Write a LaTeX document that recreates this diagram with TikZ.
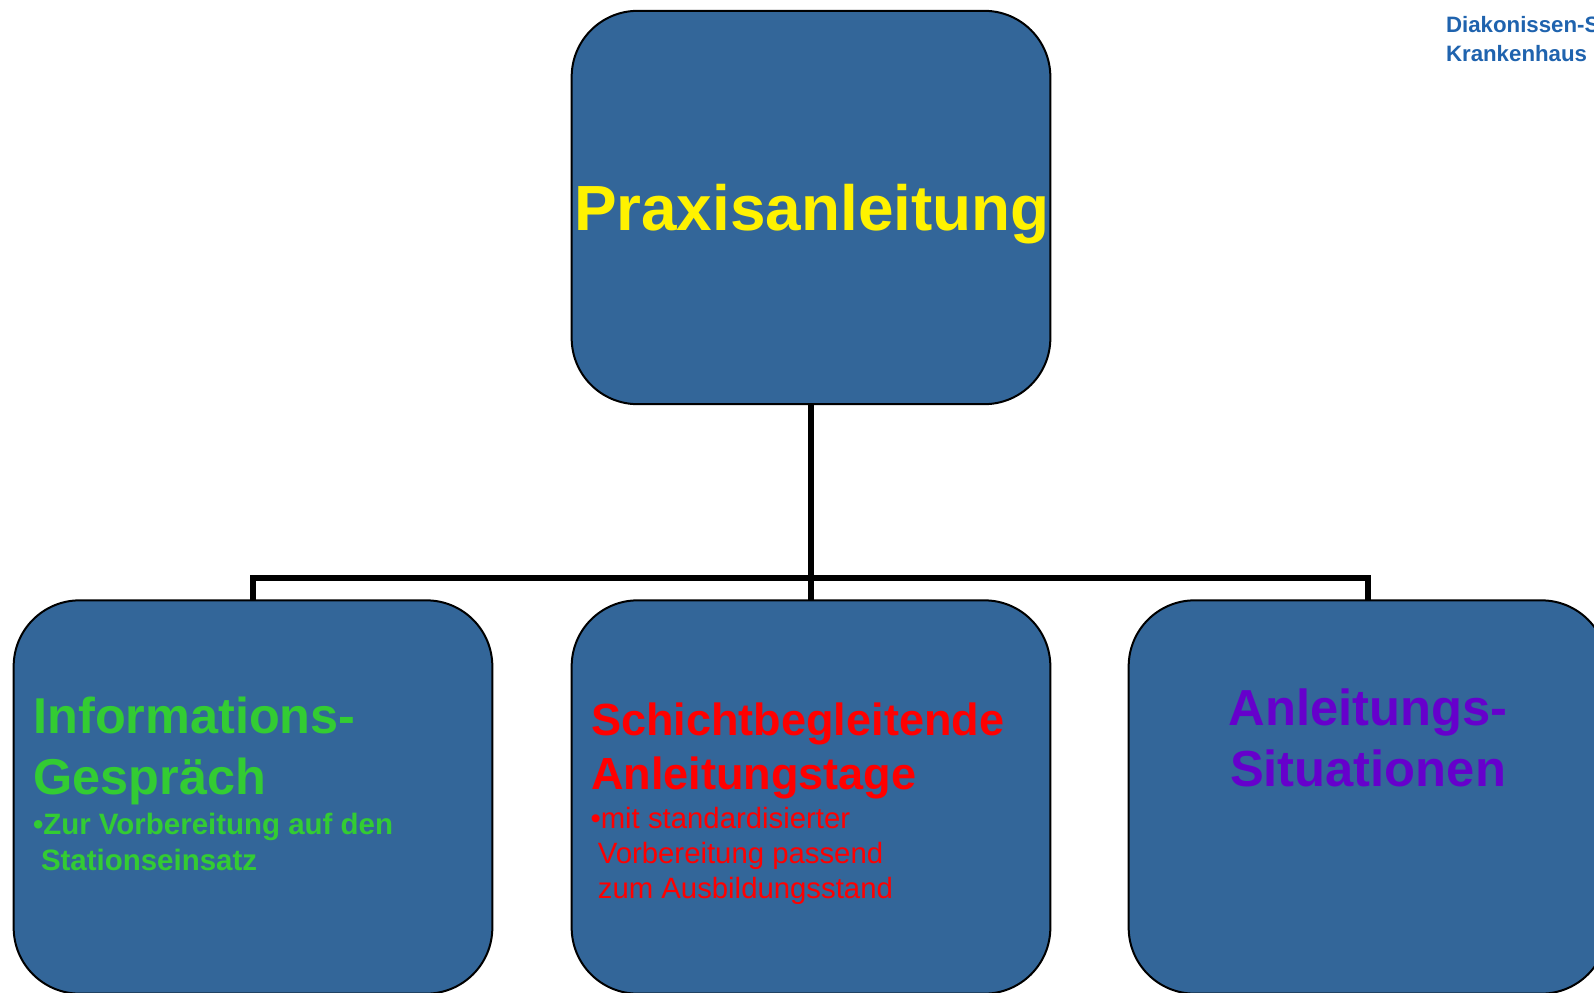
\documentclass[tikz,border=0pt]{standalone}
\usepackage{fontspec}
\setmainfont{Liberation Sans}
\definecolor{boxblue}{HTML}{336699}
\definecolor{infogreen}{HTML}{33CC33}
\definecolor{anleitred}{HTML}{FF0000}
\definecolor{anleitpurple}{HTML}{6600CC}
\definecolor{logoblue}{HTML}{1F63AE}
\tikzset{
  orgbox/.style={draw=black,fill=boxblue,line width=1.5pt,rounded corners=49.5pt,
    minimum width=359pt,minimum height=295pt,inner sep=0pt,outer sep=0pt},
  link/.style={draw=black,line width=4.5pt,line cap=butt,line join=miter},
  txt/.style={inner sep=0pt,outer sep=0pt,align=left,anchor=base west},
  ctxt/.style={inner sep=0pt,outer sep=0pt,align=center,anchor=base},
  headA/.style={font=\fontsize{37.8}{45.75}\selectfont\bfseries},
  headB/.style={font=\fontsize{33.8}{40.5}\selectfont\bfseries},
  subA/.style={font=\fontsize{22.1}{27}\selectfont\bfseries},
  subB/.style={font=\fontsize{22}{26.25}\selectfont},
  logo/.style={font=\fontsize{16.7}{21.75}\selectfont\bfseries,text=logoblue}
}
\begin{document}
\begin{tikzpicture}[x=0.75pt,y=-0.75pt]
\clip (0,0) rectangle (1594,992);
\fill[white] (0,0) rectangle (1594,992);
\node[orgbox] (top) at (811,207.5) {};
\node[orgbox] (infobox) at (253,797) {};
\node[orgbox] (schichtbox) at (811,797) {};
\node[orgbox] (anleitbox) at (1368,797) {};
\coordinate (junction) at (811,578);
\draw[link] (top.south) -- (junction);
\draw[link] (infobox.north) |- (junction) -| (anleitbox.north);
\draw[link] (junction) -- (schichtbox.north);
\node[txt,text=yellow,font=\fontsize{47.9}{56}\selectfont\bfseries] (praxis) at (574,230.5) {Praxisanleitung};
\node[txt,headA,text=infogreen] (infohead) at (33.5,794) {Informations-\\Gespräch};
\node[txt,subA,text=infogreen] (infosub) at (33,870) {•Zur Vorbereitung auf den\\\hspace*{6pt}Stationseinsatz};
\node[txt,headB,text=anleitred] (schichthead) at (591,789) {Schichtbegleitende\\Anleitungstage};
\node[txt,subB,text=anleitred] (schichtsub) at (590.5,898) {•mit standardisierter\\\hspace*{5.5pt}Vorbereitung passend\\\hspace*{5.5pt}zum Ausbildungsstand};
\node[ctxt,text=anleitpurple,font=\fontsize{38}{45.75}\selectfont\bfseries] (anleithead) at (1368,786) {Anleitungs-\\Situationen};
\node[txt,logo] (logotext) at (1446,61) {Diakonissen-S\\Krankenhaus};
\end{tikzpicture}
\end{document}
